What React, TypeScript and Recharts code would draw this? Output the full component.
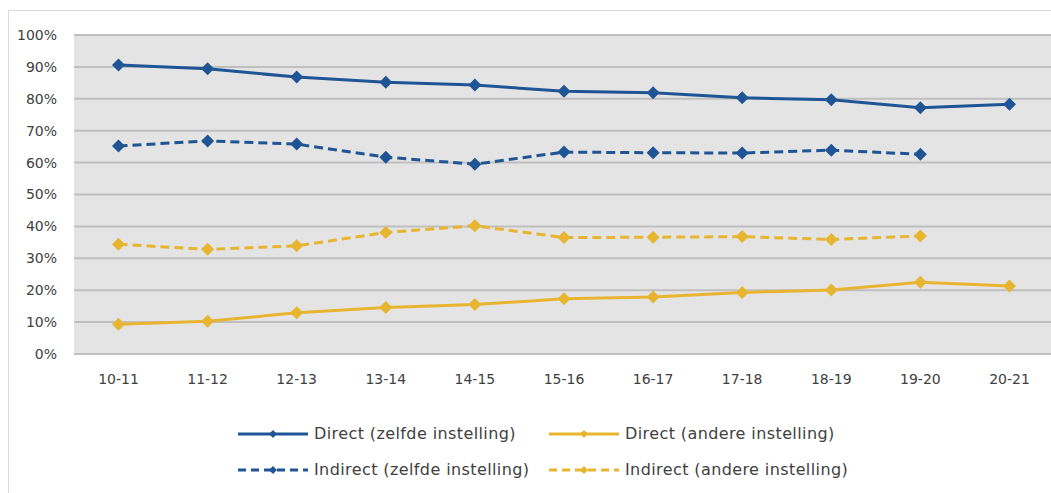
import React from 'react';
import { LineChart, Line, XAxis, YAxis, CartesianGrid } from 'recharts';

const YEARS = ['10-11', '11-12', '12-13', '13-14', '14-15', '15-16', '16-17', '17-18', '18-19', '19-20', '20-21'];
const DIRECT_SAME = [90.6, 89.4, 86.8, 85.2, 84.3, 82.4, 81.9, 80.3, 79.7, 77.2, 78.3];
const DIRECT_OTHER = [9.3, 10.3, 12.9, 14.6, 15.5, 17.3, 17.9, 19.3, 20.1, 22.5, 21.3];
const INDIRECT_SAME = [65.2, 66.8, 65.8, 61.7, 59.5, 63.3, 63.1, 63.0, 63.9, 62.6, null];
const INDIRECT_OTHER = [34.4, 32.8, 33.9, 38.1, 40.2, 36.5, 36.6, 36.8, 35.9, 37.0, null];
const Y_TICKS = [0, 10, 20, 30, 40, 50, 60, 70, 80, 90, 100];

const BLUE = '#1f5594';
const GOLD = '#e8b531';
const FONT = '"DejaVu Sans", sans-serif';

const data = YEARS.map((year, i) => ({
  year,
  directSame: DIRECT_SAME[i],
  directOther: DIRECT_OTHER[i],
  indirectSame: INDIRECT_SAME[i],
  indirectOther: INDIRECT_OTHER[i],
}));

const SERIES = [
  { key: 'directSame', name: 'Direct (zelfde instelling)', color: BLUE, dashed: false },
  { key: 'directOther', name: 'Direct (andere instelling)', color: GOLD, dashed: false },
  { key: 'indirectSame', name: 'Indirect (zelfde instelling)', color: BLUE, dashed: true },
  { key: 'indirectOther', name: 'Indirect (andere instelling)', color: GOLD, dashed: true },
];

const diamond = (color: string, r: number) => (props: any) => {
  const { cx, cy, index } = props;
  if (cx == null || cy == null || props.value == null) return <g key={index} />;
  return (
    <polygon
      key={index}
      points={`${cx},${cy - r} ${cx + r},${cy} ${cx},${cy + r} ${cx - r},${cy}`}
      fill={color}
    />
  );
};

const LegendItem = ({ color, dashed, name }: { color: string; dashed: boolean; name: string }) => (
  <div style={{ display: 'flex', alignItems: 'center', height: 18 }}>
    <svg width={72} height={12} style={{ marginRight: 5 }}>
      <line x1={1} y1={6} x2={71} y2={6} stroke={color} strokeWidth={3} strokeDasharray={dashed ? '8 5' : undefined} />
      <polygon points="36,2 40,6 36,10 32,6" fill={color} />
    </svg>
    <span>{name}</span>
  </div>
);

export default function App() {
  return (
    <div
      style={{
        position: 'fixed',
        left: 8,
        top: 10,
        width: 1100,
        height: 500,
        border: '1px solid #d9d9d9',
        background: '#fff',
      }}
    >
      <LineChart width={1060} height={400} data={data} margin={{ top: 24, right: 15, left: 10, bottom: 0 }}>
        <CartesianGrid vertical={false} fill="#e4e4e4" stroke="#bfbfbf" strokeWidth={2} />
        <XAxis
          dataKey="year"
          padding={{ left: 44.5, right: 44.5 }}
          axisLine={false}
          tickLine={false}
          tickMargin={14}
          height={57}
          tick={{ fill: '#404040', fontSize: 14, fontFamily: FONT }}
        />
        <YAxis
          domain={[0, 100]}
          ticks={Y_TICKS}
          interval={0}
          width={55}
          axisLine={false}
          tickLine={false}
          tickMargin={11}
          tickFormatter={(v: number) => `${v}%`}
          tick={{ fill: '#404040', fontSize: 14, fontFamily: FONT }}
        />
        {SERIES.map((s) => (
          <Line
            key={s.key}
            dataKey={s.key}
            name={s.name}
            stroke={s.color}
            strokeWidth={3}
            strokeDasharray={s.dashed ? '9 5' : undefined}
            dot={diamond(s.color, 6.5)}
            activeDot={false}
            isAnimationActive={false}
          />
        ))}
      </LineChart>
      <div
        style={{
          position: 'absolute',
          left: 228,
          top: 414,
          display: 'grid',
          gridTemplateColumns: '311px 330px',
          rowGap: 18,
          fontFamily: FONT,
          fontSize: 16,
          letterSpacing: 0.4,
          color: '#404040',
          lineHeight: '18px',
        }}
      >
        {SERIES.map((s) => (
          <LegendItem key={s.key} color={s.color} dashed={s.dashed} name={s.name} />
        ))}
      </div>
    </div>
  );
}
